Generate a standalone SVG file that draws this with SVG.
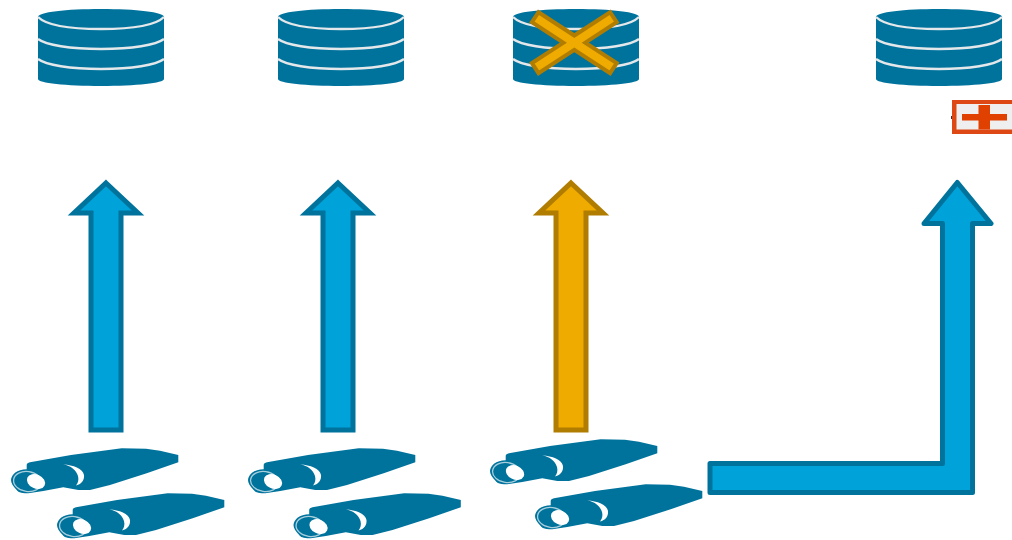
<svg xmlns="http://www.w3.org/2000/svg" width="1012" height="540" viewBox="0 0 1012 540">
<style>
.blue{fill:#00a3d9;stroke:#00739d;stroke-width:5}
.gold{fill:#f0ab00;stroke:#b07d00;stroke-width:5}
.cross{fill:#f0ab00;stroke:#b07d00;stroke-width:4}
.dk{fill:#00739d}
.ln{fill:none;stroke:#e4e8ea;stroke-width:2.4}
.wt{fill:#fff}
.soft{filter:url(#soft)}
</style>
<defs>
<filter id="soft" x="-5%" y="-5%" width="110%" height="110%"><feGaussianBlur stdDeviation="0.45"/></filter>
<g id="db" class="soft">
<path class="dk" d="M0,8C0,3 28,0 63,0S126,3 126,8V70C126,74 98,77 63,77S0,74 0,70Z"/>
<path class="ln" d="M0,8C8,16 32,20 63,20S118,16 126,8"/>
<path class="ln" d="M0,30C8,36 32,40 63,40S118,36 126,30"/>
<path class="ln" d="M0,50C8,56 32,60 63,60S118,56 126,50"/>
</g>
<g id="cam" class="soft">
<path class="dk" d="M15.7,17C15.7,15.500 17,14.800 19,14.300L60,7L110.700,.3L135,.8L149,2.700L167.300,7V14.300L135.700,25.300L99,37L79,42H67.300L52.300,39.300L32.300,43L17.300,45.300C10,45.500 7,44 5.700,42C2,38 0,35 0,32C0,29 2,26.500 4,24.700C7,22.500 11,21.500 15.700,21.300Z"/>
<ellipse cx="16.500" cy="33.500" rx="14" ry="10" transform="rotate(8 16.500 33.500)" fill="none" stroke="#a9cfdd" stroke-width="1.300"/>
<ellipse cx="25" cy="33.500" rx="9.500" ry="7" transform="rotate(25 25 33.500)" class="wt"/>
<path class="wt" d="M52.300,16.300C60,18 65,22 67,28C68,32 67,35 65,37.500C71,36 73.500,32 73,27C72,21 62,17 52.300,16.300Z"/>
</g>
<path id="ar" d="M0,3L32,33H15V250H-15V33H-32Z"/>
</defs>
<g id="connectors" stroke-linejoin="miter">
<use href="#ar" class="blue" x="106" y="180"/>
<use href="#ar" class="blue" x="338" y="180"/>
<use href="#ar" class="gold" x="571" y="180"/>
<path class="blue" stroke-linejoin="round" d="M957.300,182.500L991,223.500H972.500V492.500H710V463.500H942.500V223.500H924Z"/>
</g>
<g id="db1"><use href="#db" x="38" y="9"/></g>
<g id="db2"><use href="#db" x="278" y="9"/></g>
<g id="db3"><use href="#db" x="513" y="9"/>
<polygon class="cross" points="538.500,12.200 574.300,35.500 610.100,12.200 616.700,22.200 585.300,42.700 616.700,63.200 610.100,73.200 574.300,49.900 538.500,73.200 531.900,63.200 563.300,42.700 531.900,22.200"/></g>
<g id="db4"><use href="#db" x="876" y="9"/></g>
<g id="plus">
<rect x="951" y="116" width="2" height="3" fill="#333"/>
<rect x="952" y="100" width="60" height="34" fill="#dd4814"/>
<rect x="956.500" y="104" width="55.500" height="25.500" fill="#efefef"/>
<path fill="#e04000" d="M978.500,105H990V114H1007V120.500H990V129.500H978.500V120.500H962V114H978.500Z"/>
</g>
<g id="cams1"><use href="#cam" x="11" y="448"/><use href="#cam" x="57" y="493"/></g>
<g id="cams2"><use href="#cam" x="248" y="448"/><use href="#cam" x="293.500" y="493"/></g>
<g id="cams3"><use href="#cam" x="490" y="439"/><use href="#cam" x="535" y="484"/></g>
</svg>
